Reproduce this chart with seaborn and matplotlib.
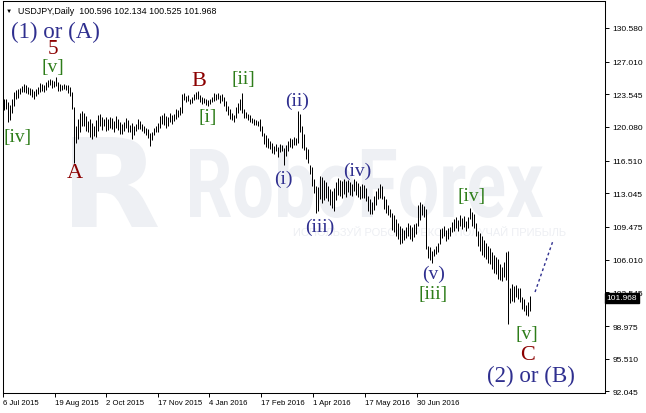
import matplotlib
matplotlib.use("Agg")
import matplotlib.pyplot as plt
import matplotlib.transforms as mtransforms
from matplotlib.textpath import TextPath
from matplotlib.patches import PathPatch
from matplotlib.font_manager import FontProperties
import pandas as pd
import seaborn as sns

# daily bars, USDJPY (bar 0 = 6 Jul 2015)
highs = [
    123.0, 123.1, 122.7, 122.4, 123.0, 123.8, 124.0, 124.1, 124.2, 124.4,
    124.6, 124.5, 124.3, 124.2, 124.1, 123.9, 124.1, 124.3, 124.7, 124.6,
    124.5, 124.8, 125.1, 125.2, 125.1, 125.0, 125.35, 124.8, 124.6, 124.5,
    124.6, 124.5, 124.5, 124.3, 123.8, 122.2, 120.2, 120.9, 121.6, 121.8,
    121.6, 121.2, 120.7, 120.9, 120.5, 120.2, 120.8, 121.3, 121.5, 121.1,
    120.9, 121.1, 120.9, 121.1,
    121.0, 120.7, 121.2, 120.9, 120.6, 120.4, 120.6, 121.0, 120.8, 120.3,
    120.5, 120.2, 120.4, 120.9, 120.7, 120.4, 120.2, 120.0, 119.9, 119.4,
    119.6, 120.0, 120.2, 120.5, 121.2, 121.4, 121.6, 121.2, 121.1, 121.6,
    121.3, 121.5, 122.0, 121.9, 122.2, 123.6, 123.7, 123.4, 123.5, 123.1,
    123.3, 123.6, 123.8, 123.9, 123.5, 123.3, 123.2, 123.0, 122.9, 123.1,
    123.3,
    123.7, 123.6, 123.7, 123.5, 123.6, 123.3, 122.8, 122.3, 122.0, 121.6,
    121.4, 122.2, 122.6, 123.0, 123.7, 122.0, 121.7, 121.5, 121.3, 121.0,
    120.9, 120.8, 120.7, 120.9, 120.2, 119.4, 119.2, 118.9, 118.6, 118.4,
    118.1, 118.3, 118.0, 118.3, 118.2, 117.9, 118.2, 118.6, 118.9, 118.8,
    119.0, 118.9, 121.8, 121.5, 120.2, 119.3, 118.0, 117.7, 116.1, 115.8,
    114.6, 113.8,
    113.7, 114.9, 114.8, 114.5, 114.2, 113.8, 113.5, 113.3, 113.6, 114.2,
    114.7, 114.5, 114.3, 114.6, 114.4, 114.5, 114.2, 114.0, 114.55, 114.3,
    114.1, 113.8, 114.0, 113.9, 113.6, 112.8, 112.4, 112.1, 112.8, 113.3,
    113.6, 114.0, 113.8, 112.8, 112.4, 111.8, 111.4, 111.0, 110.7, 110.3,
    109.9, 109.6, 109.4, 109.2, 109.5, 109.95, 109.7, 109.5, 109.8, 109.9,
    111.8, 112.1, 111.9, 111.7, 111.4, 107.5, 107.3, 106.9, 107.1, 107.5,
    107.8, 109.3, 109.4, 109.6, 109.2, 109.4, 109.5, 110.0, 110.3, 110.5,
    110.2, 110.7, 110.4, 110.6, 110.1, 110.5, 111.5, 111.1, 110.9, 109.9,
    109.1, 108.8, 108.5, 108.1, 107.8, 107.5, 107.2, 106.8, 106.5, 106.3,
    106.1, 105.6, 105.2, 105.8, 106.8, 106.9, 103.05, 103.4, 103.2, 103.3,
    103.05, 103.0, 102.0, 101.8, 101.2, 101.5, 102.134,
]
lows = [
    121.9, 122.0, 120.6, 120.8, 121.6, 122.3, 123.0, 123.2, 123.6, 123.8,
    123.8, 123.7, 123.6, 123.5, 123.3, 123.1, 123.4, 123.6, 123.8, 123.9,
    123.8, 124.0, 124.3, 124.5, 124.2, 124.3, 124.4, 123.9, 123.9, 124.0,
    124.1, 124.0, 123.7, 123.4, 122.0, 116.3, 118.4, 118.8, 119.6, 120.2,
    120.2, 119.7, 119.5, 119.0, 118.8, 119.1, 119.0, 119.7, 120.2, 119.8,
    120.2, 119.7, 119.8, 120.0,
    119.9, 119.6, 120.0, 119.8, 119.3, 119.3, 119.7, 120.0, 119.5, 119.6,
    118.8, 119.2, 119.7, 119.9, 119.9, 119.7, 119.4, 119.2, 118.9, 118.1,
    118.7, 119.2, 119.5, 119.6, 120.0, 120.4, 120.3, 120.0, 120.2, 120.6,
    120.4, 120.7, 120.9, 121.1, 121.4, 121.6, 122.9, 122.7, 122.8, 122.5,
    122.6, 122.9, 123.0, 123.1, 122.7, 122.5, 122.6, 122.4, 122.3, 122.5,
    122.7,
    122.8, 122.9, 123.0, 122.6, 122.8, 122.3, 121.8, 121.3, 120.9, 120.8,
    120.6, 121.0, 121.6, 121.9, 121.6, 121.0, 121.0, 120.8, 120.6, 120.5,
    120.3, 120.3, 120.2, 119.7, 119.1, 118.3, 118.0, 117.9, 117.7, 117.3,
    117.2, 117.5, 116.9, 117.4, 117.5, 116.1, 117.0, 117.5, 118.0, 117.8,
    118.2, 118.2, 118.4, 119.5, 117.9, 117.6, 116.7, 116.3, 115.1, 113.8,
    113.1, 111.0,
    111.2, 112.4, 112.0, 112.3, 112.6, 112.2, 111.8, 111.5, 111.2, 112.3,
    112.9, 112.8, 112.6, 113.0, 112.7, 113.2, 112.9, 112.8, 113.3, 112.9,
    112.7, 112.4, 112.6, 112.5, 112.2, 111.2, 110.9, 110.8, 111.3, 111.8,
    112.4, 112.6, 112.4, 111.4, 111.0, 110.7, 110.5, 109.2, 108.9, 108.5,
    108.2, 107.65, 107.8, 108.1, 108.3, 108.5, 108.2, 108.0, 108.4, 108.7,
    109.6, 110.2, 110.7, 110.5, 107.1, 106.2, 106.0, 105.7, 106.4, 106.6,
    106.8, 107.7, 108.3, 108.5, 108.0, 108.2, 108.5, 108.9, 109.1, 109.4,
    109.0, 109.6, 109.3, 109.5, 109.0, 109.4, 110.3, 109.6, 109.4, 108.5,
    107.5, 106.9, 106.5, 106.3, 106.1, 105.7, 105.5, 105.0, 104.6, 104.5,
    104.0, 103.9, 103.8, 104.2, 103.9, 99.16, 101.46, 101.6, 101.5, 102.1,
    101.8, 101.5, 100.8, 100.6, 100.1, 100.0, 100.525,
]

# last bar OHLC shown in the header
last_ohlc = [100.596, 102.134, 100.525, 101.968]

# dotted forecast
fc_bar = [265.75, 274.75]
fc_price = [102.58, 108.02]

price_ticks = [92.045, 95.510, 98.975, 102.545, 106.010, 109.475,
               113.045, 116.510, 120.080, 123.545, 127.010, 130.580]
date_ticks = [-0.4, 25.4, 51.25, 77.1, 102.9, 128.75, 154.6, 180.75, 206.6]
date_labels = ["6 Jul 2015", "19 Aug 2015", "2 Oct 2015", "17 Nov 2015",
               "4 Jan 2016", "17 Feb 2016", "1 Apr 2016", "17 May 2016",
               "30 Jun 2016"]

NAVY = "#2F2F8F"
RED = "#8B0000"
GREEN = "#2E7D1A"

# wave labels: text, bar, price, colour, size
waves = [
    ("(1) or (A)", 25.75, 130.16, NAVY, 16.5),
    ("5", 24.75, 128.35, RED, 15),
    ("[v]", 24.5, 126.5, GREEN, 14),
    ("[iv]", 6.75, 119.07, GREEN, 14),
    ("A", 35.75, 115.25, RED, 16),
    ("B", 97.5, 124.96, RED, 16),
    ("[i]", 101.75, 121.19, GREEN, 14),
    ("[ii]", 120.0, 125.17, GREEN, 14),
    ("(ii)", 146.75, 122.94, NAVY, 14),
    ("(i)", 139.75, 114.67, NAVY, 14),
    ("(iii)", 158.0, 109.58, NAVY, 14),
    ("(iv)", 177.0, 115.52, NAVY, 14),
    ("(v)", 215.0, 104.59, NAVY, 14),
    ("[iii]", 214.75, 102.47, GREEN, 14),
    ("[iv]", 233.75, 112.81, GREEN, 14),
    ("[v]", 261.75, 98.18, GREEN, 14),
    ("C", 262.25, 96.0, RED, 16),
    ("(2) or (B)", 263.75, 93.77, NAVY, 16.5),
]

sns.set_style("white", {"axes.edgecolor": "black", "text.color": "black",
                        "xtick.color": "black", "ytick.color": "black"})
plt.rcParams["font.family"] = ["Liberation Sans", "DejaVu Sans"]

W, H = 646, 414
fig = plt.figure(figsize=(W / 100, H / 100), dpi=100)
ax = fig.add_axes([3 / W, 20 / H, 602 / W, 392 / H])

# watermark
wm = "#EEF0F4"
tp = TextPath((0, 0), "RoboForex", size=100, prop=FontProperties(family="Roboto", weight="bold"))
bb = tp.get_extents()
tr = mtransforms.Affine2D().translate(-bb.x0, 0).scale(353 / bb.width, 68 / 71.1).translate(190, H - 218)
ax.add_patch(PathPatch(tp, transform=tr, facecolor=wm, edgecolor="none", zorder=0))
rp = TextPath((0, 0), "R", size=100, prop=FontProperties(family="DejaVu Sans", weight="bold"))
rb = rp.get_extents()
tr2 = mtransforms.Affine2D().translate(-rb.x0, -rb.y0).scale(86 / rb.width, 90 / rb.height).translate(72, H - 228)
ax.add_patch(PathPatch(rp, transform=tr2, facecolor=wm, edgecolor="none", zorder=0))
ax.text(293, H - 233, "ИСПОЛЬЗУЙ РОБОФОРЕКС – ПОЛУЧАЙ ПРИБЫЛЬ", transform=mtransforms.IdentityTransform(),
        fontsize=8, color="#EDEFF3", va="center", ha="left", zorder=0)

bars = pd.DataFrame({"bar": range(len(highs)), "high": highs, "low": lows})
ax.vlines(bars["bar"], bars["low"], bars["high"], color="black", linewidth=0.72, zorder=2)

sns.lineplot(x=fc_bar, y=fc_price, ax=ax, color=NAVY, linewidth=1, linestyle=(0, (2, 2)))

for txt, b, p, col, fs in waves:
    ax.text(b, p, txt, color=col, fontsize=fs, ha="center", va="center",
            family=["Liberation Serif", "DejaVu Serif"], zorder=4)

ax.set_xlim(-0.25, 300.75)
ax.set_ylim(91.87, 133.44)

ax.yaxis.tick_right()
ax.set_yticks(price_ticks)
ax.set_yticklabels([f"{v:.3f}" for v in price_ticks])
ax.set_xticks(date_ticks)
ax.set_xticklabels(date_labels)
ax.tick_params(axis="y", right=True, direction="out", length=3, width=0.7, pad=2.5, labelsize=6)
ax.tick_params(axis="x", bottom=True, direction="out", length=3, width=0.7, pad=1.5, labelsize=5.6)
for t in ax.get_xticklabels():
    t.set_ha("left")
for s in ax.spines.values():
    s.set_linewidth(0.75)
    s.set_color("black")
ax.set_xlabel("")
ax.set_ylabel("")

# current price box
blend = mtransforms.blended_transform_factory(ax.transAxes, ax.transData)
ax.text(1.003, last_ohlc[3], f"{last_ohlc[3]:.3f}", transform=blend, color="white", fontsize=6,
        ha="left", va="center", zorder=6, clip_on=False,
        bbox=dict(facecolor="black", edgecolor="black", boxstyle="square,pad=0.2"))

# header
fig.text(6 / W, 1 - 11 / H, "▼", fontsize=4.5, va="center", ha="left")
fig.text(18 / W, 1 - 11 / H, "USDJPY,Daily  " + " ".join(f"{v:.3f}" for v in last_ohlc),
         fontsize=6.4, va="center", ha="left")

fig.savefig("out.png", dpi=100)
